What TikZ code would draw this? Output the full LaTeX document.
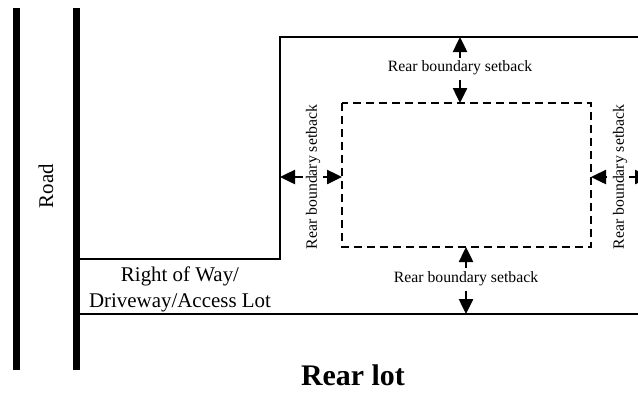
\documentclass[tikz,border=0pt]{standalone}
\usepackage{fontspec}
\setmainfont{Liberation Serif}
\usetikzlibrary{arrows.meta}
\begin{document}
\begin{tikzpicture}[x=1bp,y=-1bp,
  road/.style={line width=7bp},
  lotline/.style={line width=1.6bp},
  envelope/.style={line width=1.8bp, dash pattern=on 8bp off 5bp},
  setarrow/.style={line width=2.5bp, -{Triangle[length=15bp,width=14bp]}},
  setlabel/.style={inner sep=0pt, font=\fontsize{15.8}{18}\selectfont},
  biglabel/.style={inner sep=0pt, font=\fontsize{21}{26}\selectfont, align=center},
  title/.style={inner sep=0pt, font=\fontsize{30}{34}\selectfont\bfseries}]
\useasboundingbox (0,0) rectangle (638,392);
% road
\coordinate (r1t) at (16.5,8); \coordinate (r1b) at (16.5,370);
\coordinate (r2t) at (76.5,8); \coordinate (r2b) at (76.5,370);
\draw[road] (r1t) -- (r1b);
\draw[road] (r2t) -- (r2b);
\node[biglabel, rotate=90] (road) at (46,186) {Road};
% lot outline
\coordinate (a1) at (80,259); \coordinate (a2) at (280,259);
\coordinate (a3) at (280,37); \coordinate (a4) at (640,37);
\draw[lotline] (a1) -- (a2) -- (a3) -- (a4);
\coordinate (b1) at (80,314); \coordinate (b2) at (640,314);
\draw[line width=2bp] (b1) -- (b2);
% building envelope
\draw[envelope] (342,103) rectangle (591,247);
% labels
\node[biglabel] (row) at (180,289) {Right of Way/\\Driveway/Access Lot};
\node[title] (rear) at (353,375) {Rear lot};
% top setback
\node[setlabel] (top) at (460,68) {Rear boundary setback};
\coordinate (t1) at (460,58); \coordinate (t1e) at (460,37);
\coordinate (t2) at (460,80); \coordinate (t2e) at (460,103);
\draw[setarrow] (t1) -- (t1e);
\draw[setarrow] (t2) -- (t2e);
% bottom setback
\node[setlabel] (bot) at (466,279) {Rear boundary setback};
\coordinate (u1) at (466,268); \coordinate (u1e) at (466,247);
\coordinate (u2) at (466,291); \coordinate (u2e) at (466,314);
\draw[setarrow] (u1) -- (u1e);
\draw[setarrow] (u2) -- (u2e);
% left setback
\node[setlabel, rotate=90] (lft) at (313,177) {Rear boundary setback};
\coordinate (l1) at (303,177); \coordinate (l1e) at (280,177);
\coordinate (l2) at (323,177); \coordinate (l2e) at (342,177);
\draw[setarrow] (l1) -- (l1e);
\draw[setarrow] (l2) -- (l2e);
% right setback
\node[setlabel, rotate=90] (rgt) at (620,177) {Rear boundary setback};
\coordinate (g1) at (607,177); \coordinate (g1e) at (591,177);
\coordinate (g2) at (629,177); \coordinate (g2e) at (650,177);
\draw[setarrow] (g1) -- (g1e);
\draw[setarrow] (g2) -- (g2e);
\end{tikzpicture}
\end{document}
